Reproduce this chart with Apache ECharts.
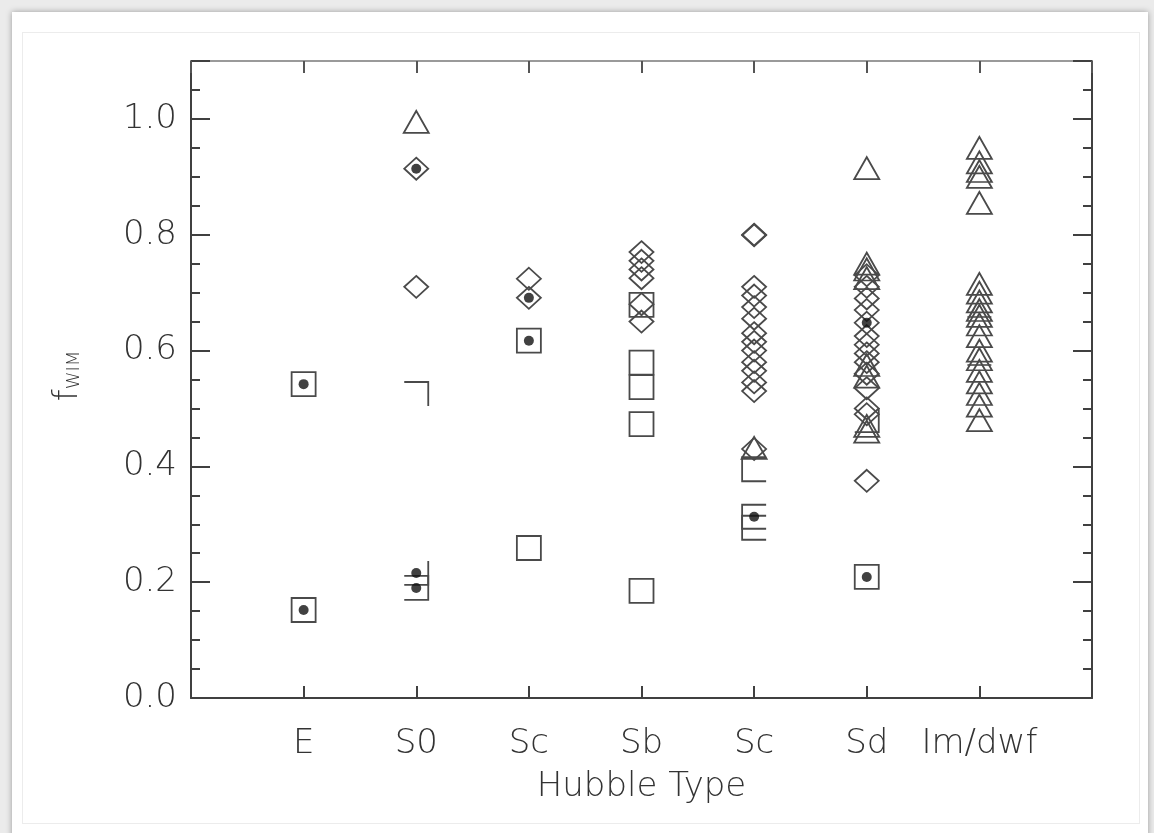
<!DOCTYPE html>
<html>
<head>
<meta charset="utf-8">
<script src="https://cdn.jsdelivr.net/npm/echarts@6/dist/echarts.min.js"></script>
<style>
html,body{margin:0;padding:0;background:#ebebeb;width:1154px;height:833px;overflow:hidden;}
#card{position:absolute;left:12px;top:12px;width:1136px;height:840px;background:#fff;box-shadow:0 0 6px rgba(0,0,0,0.35);}
#inner{position:absolute;left:22px;top:32px;width:1116px;height:790px;border:1px solid #ececec;}
#chart{position:absolute;left:0;top:0;width:1154px;height:833px;}
</style>
</head>
<body>
<div id="card"></div>
<div id="inner"></div>
<div id="chart"></div>
<script>
// ---- data (x = category position 1..7, y = f_WIM) ----
const categories = ['E', 'S0', 'Sc', 'Sb', 'Sc', 'Sd', 'Im/dwf'];
const yTickLabels = ['0.0', '0.2', '0.4', '0.6', '0.8', '1.0'];

const squares = [[1,0.542],[1,0.152],[3,0.617],[3,0.259],[4,0.679],[4,0.579],[4,0.537],[4,0.473],[4,0.185],[6,0.209]];
const squaresTopRight = [[2,0.525]];
const squaresRightBottom = [[2,0.216],[6,0.48]];
const squaresTopRightBottom = [[2,0.19]];
const squaresTopLeftBottom = [[5,0.395],[5,0.313],[5,0.294]];
const diamonds = [[2,0.914],[2,0.71],
  [3,0.724],[3,0.691],
  [4,0.77],[4,0.755],[4,0.74],[4,0.725],[4,0.68],[4,0.65],
  [5,0.80],[5,0.799],[5,0.71],[5,0.695],[5,0.675],[5,0.655],[5,0.63],[5,0.615],[5,0.60],[5,0.58],[5,0.565],[5,0.545],[5,0.53],[5,0.43],
  [6,0.73],[6,0.71],[6,0.69],[6,0.67],[6,0.648],[6,0.625],[6,0.61],[6,0.595],[6,0.58],[6,0.56],[6,0.535],[6,0.50],[6,0.49],[6,0.375]];
const triangles = [[2,0.995],[5,0.432],
  [6,0.915],[6,0.75],[6,0.74],[6,0.725],[6,0.575],[6,0.555],[6,0.47],[6,0.46],
  [7,0.95],[7,0.925],[7,0.91],[7,0.90],[7,0.855],[7,0.715],[7,0.70],[7,0.685],[7,0.67],[7,0.66],[7,0.645],[7,0.625],[7,0.60],[7,0.585],[7,0.565],[7,0.545],[7,0.525],[7,0.505],[7,0.48]];
const dashes = [[7,0.658],[7,0.575]];
const dots = [[1,0.542],[1,0.152],[2,0.914],[2,0.216],[2,0.19],[3,0.691],[3,0.617],[5,0.313],[6,0.648],[6,0.209]];

// ---- styles ----
const INK = '#404040';
const TXT = '#333';
const FONT = '"DejaVu Sans", sans-serif';
const FW = 200;
const FS = 34;
function openSeries(data, symbol, size) {
  return {
    type: 'scatter', data: data, symbol: symbol, symbolSize: size,
    itemStyle: { color: 'rgba(0,0,0,0)', borderColor: '#4a4a4a', borderWidth: 1.8, opacity: 1 },
    emphasis: { disabled: true }, silent: true, animation: false
  };
}

const chart = echarts.init(document.getElementById('chart'), null, { renderer: 'canvas' });
const option = {
  backgroundColor: 'transparent',
  animation: false,
  grid: { left: 191, top: 61, width: 901, height: 637, containLabel: false },
  xAxis: [
    {
      type: 'value', position: 'bottom', min: 0, max: 8, interval: 1,
      axisLine: { show: true, onZero: false, lineStyle: { color: INK, width: 2 } },
      splitLine: { show: false },
      axisTick: { inside: true, length: 12, lineStyle: { color: INK, width: 2 } },
      axisLabel: { margin: 29, fontSize: FS, fontFamily: FONT, fontWeight: FW, color: TXT,
        formatter: v => categories[v - 1] || '' },
      name: 'Hubble Type', nameLocation: 'middle', nameGap: 72,
      nameTextStyle: { fontSize: FS, fontFamily: FONT, fontWeight: FW, color: TXT }
    },
    {
      type: 'value', position: 'top', min: 0, max: 8, interval: 1,
      axisLine: { show: true, onZero: false, lineStyle: { color: '#9a9a9a', width: 2 } },
      splitLine: { show: false },
      axisTick: { inside: true, length: 12, lineStyle: { color: '#555', width: 2 } },
      axisLabel: { show: false }
    }
  ],
  yAxis: [
    {
      type: 'value', position: 'left', min: 0, max: 1.1, interval: 0.2,
      axisLine: { show: true, onZero: false, lineStyle: { color: INK, width: 2 } },
      splitLine: { show: false }, minorSplitLine: { show: false },
      axisTick: { inside: true, length: 19, lineStyle: { color: INK, width: 2 } },
      minorTick: { show: true, splitNumber: 4, length: 9, lineStyle: { color: INK, width: 2 } },
      axisLabel: { margin: 14, fontSize: FS, fontFamily: FONT, fontWeight: FW, color: TXT, showMaxLabel: false,
        formatter: v => { const i = Math.round(v / 0.2); return (Math.abs(v - i * 0.2) < 1e-6) ? (yTickLabels[i] || '') : ''; } }
    },
    {
      type: 'value', position: 'right', min: 0, max: 1.1, interval: 0.2,
      axisLine: { show: true, onZero: false, lineStyle: { color: INK, width: 2 } },
      splitLine: { show: false }, minorSplitLine: { show: false },
      axisTick: { inside: true, length: 19, lineStyle: { color: INK, width: 2 } },
      minorTick: { show: true, splitNumber: 4, length: 9, lineStyle: { color: INK, width: 2 } },
      axisLabel: { show: false }
    }
  ],
  graphic: [{
    type: 'text', x: 68, y: 376, rotation: Math.PI / 2, silent: true,
    style: {
      text: '{f|f}{s|WIM}', align: 'center', verticalAlign: 'middle',
      rich: {
        f: { fontSize: FS, fontFamily: FONT, fontWeight: FW, fill: TXT },
        s: { fontSize: 18, fontFamily: FONT, fontWeight: FW, fill: TXT, padding: [13, 0, 0, 0] }
      }
    }
  }],
  series: [
    openSeries(squares, 'rect', 24),
    openSeries(squaresTopRight, 'path://M0,0 L10,0 L10,10', 24),
    openSeries(squaresRightBottom, 'path://M10,0 L10,10 L0,10', 24),
    openSeries(squaresTopRightBottom, 'path://M0,0 L10,0 L10,10 L0,10', 24),
    openSeries(squaresTopLeftBottom, 'path://M10,0 L0,0 L0,10 L10,10', 24),
    openSeries(diamonds, 'diamond', [24, 22]),
    openSeries(triangles, 'triangle', [25, 22]),
    {
      type: 'scatter', data: dashes, symbol: 'rect', symbolSize: [24, 2],
      itemStyle: { color: '#4a4a4a' }, silent: true, animation: false
    },
    {
      type: 'scatter', data: dots, symbol: 'circle', symbolSize: 10,
      itemStyle: { color: '#111' }, silent: true, animation: false
    }
  ]
};
chart.setOption(option);
</script>
</body>
</html>
